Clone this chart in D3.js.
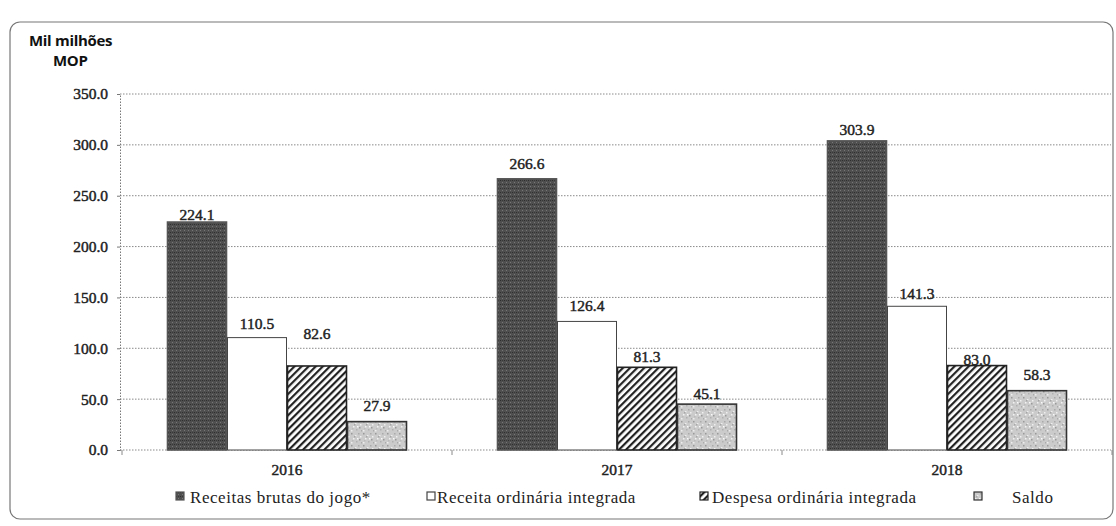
<!DOCTYPE html>
<html><head><meta charset="utf-8">
<script src="https://cdn.jsdelivr.net/npm/d3@7"></script>
<style>body{margin:0;background:#fff}svg{display:block}
.serif{font-family:"Liberation Serif","Times New Roman",Times,"DejaVu Serif",serif;}
.num{stroke:#222;stroke-width:0.45;paint-order:stroke;}
</style>
</head><body><svg id="c" width="1116" height="526"></svg>
<script>
const categories = ["2016","2017","2018"];
const seriesNames = ["Receitas brutas do jogo*","Receita ordinária integrada","Despesa ordinária integrada","Saldo"];
const receitasJogo = [224.1, 266.6, 303.9];
const receitaOrdinaria = [110.5, 126.4, 141.3];
const despesaOrdinaria = [82.6, 81.3, 83.0];
const saldo = [27.9, 45.1, 58.3];
const yTicks = [0,50,100,150,200,250,300,350];
const unitLines = ["Mil milhões","MOP"];

// layout-only: pixel gap between each value label and its bar top (per category, per series)
const labelGaps = [[2,9,27,11],[10,10,5,5],[6,7,1,11]];

const series = [receitasJogo, receitaOrdinaria, despesaOrdinaria, saldo];
const svg = d3.select("#c");
const defs = svg.append("defs");

// patterns
const pDark = defs.append("pattern").attr("id","pDark").attr("patternUnits","userSpaceOnUse").attr("width",4).attr("height",4);
pDark.append("rect").attr("width",4).attr("height",4).attr("fill","#4f4f4f");
pDark.append("rect").attr("x",0).attr("y",0).attr("width",1).attr("height",1).attr("fill","#2e2e2e");
pDark.append("rect").attr("x",2).attr("y",2).attr("width",1).attr("height",1).attr("fill","#777");
pDark.append("rect").attr("x",2).attr("y",0).attr("width",1).attr("height",1).attr("fill","#383838");

const pHatch = defs.append("pattern").attr("id","pHatch").attr("patternUnits","userSpaceOnUse").attr("width",5).attr("height",5).attr("patternTransform","rotate(45)");
pHatch.append("rect").attr("width",5).attr("height",5).attr("fill","#fff");
pHatch.append("rect").attr("x",0).attr("y",0).attr("width",2.2).attr("height",5).attr("fill","#222");

const pSaldo = defs.append("pattern").attr("id","pSaldo").attr("patternUnits","userSpaceOnUse").attr("width",12).attr("height",12);
pSaldo.append("rect").attr("width",12).attr("height",12).attr("fill","#cbcbcb");
[[1,1,"#999"],[5,3,"#eee"],[8,1,"#aaa"],[3,6,"#f2f2f2"],[9,7,"#999"],[6,9,"#b0b0b0"],[1,10,"#eee"],[10,4,"#f0f0f0"],[4,4,"#a5a5a5"],[7,6,"#fafafa"],[11,10,"#aaa"],[2,8,"#bbb"]].forEach(d=>{
  pSaldo.append("rect").attr("x",d[0]).attr("y",d[1]).attr("width",1.5).attr("height",1.5).attr("fill",d[2]);
});

const fills = ["url(#pDark)","#fff","url(#pHatch)","url(#pSaldo)"];
const strokes = ["#555","#444","#222","#333"];

// frame
svg.append("rect").attr("x",10).attr("y",22).attr("width",1103).attr("height",497).attr("rx",10)
  .attr("fill","none").attr("stroke","#777").attr("stroke-width",1.2);

const x0 = d3.scaleBand().domain(categories).range([122,1112]).paddingInner(0).paddingOuter(0);
const x1 = d3.scaleBand().domain(d3.range(4)).range([45, 285]).padding(0);
const y = d3.scaleLinear().domain([0,350]).range([450,94]);

// gridlines
svg.append("g").selectAll("line").data(yTicks).join("line")
  .attr("x1",120).attr("x2",1111).attr("y1",d=>y(d)).attr("y2",d=>y(d))
  .attr("stroke","#8a8a8a").attr("stroke-width",1).attr("stroke-dasharray","1.5,1.5");

// y axis
const yAxis = svg.append("g").attr("transform","translate(120,0)")
  .call(d3.axisLeft(y).tickValues(yTicks).tickFormat(d3.format(".1f")).tickSize(3).tickPadding(9));
yAxis.attr("font-family",null);
yAxis.select(".domain").attr("stroke","#777").attr("stroke-dasharray","1.5,1.5");
yAxis.selectAll(".tick line").attr("stroke","#777");
yAxis.selectAll("text").attr("class","serif num").attr("font-size",15.5).attr("fill","#222");

// x axis
const xAxis = svg.append("g").attr("transform","translate(0,450)")
  .call(d3.axisBottom(x0).tickSize(0).tickPadding(14));
xAxis.attr("font-family",null);
xAxis.select(".domain").remove();
xAxis.selectAll("text").attr("class","serif num").attr("font-size",15.5).attr("fill","#222");
// boundary ticks
svg.append("g").selectAll("line").data([0,1,2,3]).join("line")
  .attr("x1",i=>x0.range()[0]+i*x0.bandwidth()).attr("x2",i=>x0.range()[0]+i*x0.bandwidth())
  .attr("y1",450).attr("y2",455).attr("stroke","#888").attr("stroke-width",1);

// bars
const groups = svg.append("g").selectAll("g").data(categories).join("g")
  .attr("transform",d=>`translate(${x0(d)},0)`);
groups.each(function(cat,ci){
  const g = d3.select(this);
  series.forEach((s,si)=>{
    g.append("rect").attr("x",x1(si)+0.5).attr("width",x1.bandwidth()-1)
      .attr("y",y(s[ci])).attr("height",y(0)-y(s[ci]))
      .attr("fill",fills[si]).attr("stroke",strokes[si]).attr("stroke-width",si===1?1:1.6);
    g.append("text").attr("x",x1(si)+x1.bandwidth()/2).attr("y",y(s[ci])-labelGaps[ci][si])
      .attr("text-anchor","middle").attr("class","serif num").attr("font-size",15.5)
      .attr("fill","#222").text(d3.format(".1f")(s[ci]));
  });
});

// unit label
svg.append("text").attr("x",29).attr("y",46).attr("font-family","'Open Sans',sans-serif").attr("font-size",15)
  .attr("font-weight","bold").attr("letter-spacing","-0.3").attr("fill","#111").text(unitLines[0]);
svg.append("text").attr("x",53).attr("y",66).attr("font-family","'Open Sans',sans-serif").attr("font-size",15)
  .attr("font-weight","bold").attr("letter-spacing","-0.3").attr("fill","#111").text(unitLines[1]);

// legend
const legendX = [[176,190],[427,437],[700,712],[974,1012]];
const lg = svg.append("g");
seriesNames.forEach((n,i)=>{
  lg.append("rect").attr("x",legendX[i][0]).attr("y",492).attr("width",8).attr("height",8)
    .attr("fill",fills[i]).attr("stroke",strokes[i]).attr("stroke-width",1.2);
  lg.append("text").attr("x",legendX[i][1]).attr("y",503).attr("class","serif")
    .attr("font-size",17).attr("letter-spacing","0.55").attr("fill","#222").text(n);
});
</script></body></html>
